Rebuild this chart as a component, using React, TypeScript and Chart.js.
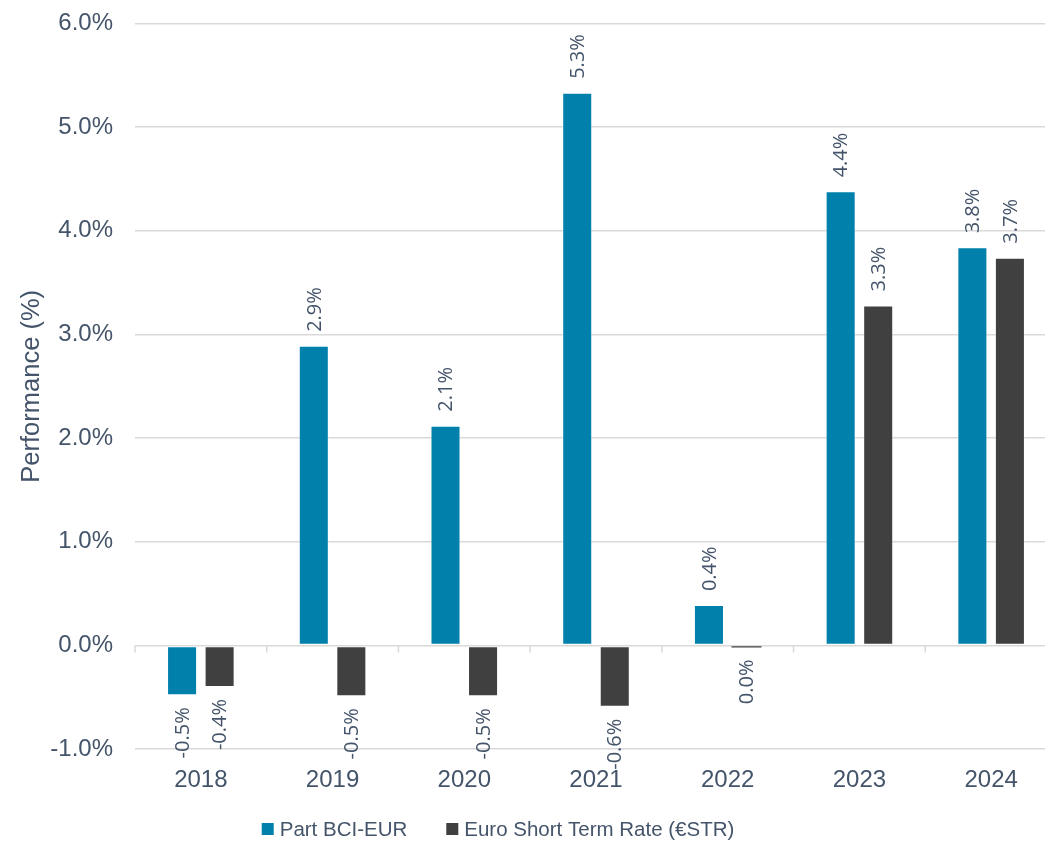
import React, { useEffect, useRef } from "react";
import { Chart, registerables } from "chart.js";

Chart.register(...registerables);

const categories = ["2018", "2019", "2020", "2021", "2022", "2023", "2024"];
const seriesBCI = [-0.48, 2.89, 2.12, 5.33, 0.39, 4.38, 3.84];
const seriesESTR = [-0.4, -0.49, -0.49, -0.59, -0.02, 3.28, 3.74];
const seriesNames = ["Part BCI-EUR", "Euro Short Term Rate (€STR)"];
const seriesColors = ["#0080AB", "#404040"];
const yTickMin = -1;
const yTickMax = 6;
const yTickStep = 1;

const TEXT = "#44546A";
const AXIS_FONT = "'Liberation Sans', Arial, sans-serif";
const LABEL_FONT = "'Open Sans', 'Liberation Sans', sans-serif";

const fmt = (v: number) => {
  const r = Math.round(v * 10) / 10;
  return (r === 0 ? 0 : r).toFixed(1) + "%";
};

const borderFor = (c: any) => {
  const v = c.raw;
  return typeof v === "number" && Math.abs(v) < 0.1 ? 0 : 1;
};

const dataLabelPlugin = {
  id: "dataLabels",
  afterDatasetsDraw(chart: any) {
    const ctx = chart.ctx;
    ctx.save();
    ctx.font = `20px ${LABEL_FONT}`;
    ctx.fillStyle = TEXT;
    ctx.textBaseline = "middle";
    chart.data.datasets.forEach((ds: any, di: number) => {
      const meta = chart.getDatasetMeta(di);
      meta.data.forEach((el: any, i: number) => {
        const v = ds.data[i];
        const txt = fmt(v);
        ctx.save();
        if (v >= 0) {
          ctx.translate(el.x, el.y - 14);
          ctx.rotate(-Math.PI / 2);
          ctx.textAlign = "left";
        } else {
          ctx.translate(el.x, el.y + 12);
          ctx.rotate(-Math.PI / 2);
          ctx.textAlign = "right";
        }
        ctx.fillText(txt, 0, 1);
        ctx.restore();
      });
    });
    ctx.restore();
  },
};

const zeroTicksPlugin = {
  id: "zeroTicks",
  beforeDatasetsDraw(chart: any) {
    const x = chart.scales.x;
    const y = chart.scales.y;
    const ctx = chart.ctx;
    const y0 = y.getPixelForValue(0);
    const n = categories.length;
    ctx.save();
    ctx.strokeStyle = "#D9D9D9";
    ctx.lineWidth = 1.5;
    for (let i = 0; i <= n; i++) {
      const px = x.left + (i * (x.right - x.left)) / n;
      ctx.beginPath();
      ctx.moveTo(px, y0);
      ctx.lineTo(px, y0 + 7);
      ctx.stroke();
    }
    ctx.restore();
  },
};

const legendPlugin = {
  id: "customLegend",
  afterDraw(chart: any) {
    const ctx = chart.ctx;
    ctx.save();
    ctx.font = `20.5px ${AXIS_FONT}`;
    ctx.textBaseline = "middle";
    const box = 12;
    const gapBoxText = 6;
    const gapItems = 39;
    const widths = seriesNames.map((s) => box + gapBoxText + ctx.measureText(s).width);
    const total = widths.reduce((a, b) => a + b, 0) + gapItems * (widths.length - 1);
    const cx = 498;
    const cy = 829;
    let x = cx - total / 2;
    seriesNames.forEach((s, i) => {
      ctx.fillStyle = seriesColors[i];
      ctx.fillRect(x, cy - box / 2, box, box);
      ctx.fillStyle = TEXT;
      ctx.textAlign = "left";
      ctx.fillText(s, x + box + gapBoxText, cy + 1);
      x += widths[i] + gapItems;
    });
    ctx.restore();
  },
};

export default function App() {
  const ref = useRef<HTMLCanvasElement | null>(null);
  useEffect(() => {
    if (!ref.current) return;
    const chart = new Chart(ref.current, {
      type: "bar",
      data: {
        labels: categories,
        datasets: [
          {
            label: seriesNames[0],
            data: seriesBCI,
            backgroundColor: seriesColors[0],
            borderColor: "rgba(255,255,255,0.45)",
            borderWidth: borderFor,
            borderSkipped: false,
            categoryPercentage: 0.57,
            barPercentage: 0.8,
          },
          {
            label: seriesNames[1],
            data: seriesESTR,
            backgroundColor: seriesColors[1],
            borderColor: "rgba(255,255,255,0.35)",
            borderWidth: borderFor,
            borderSkipped: false,
            categoryPercentage: 0.57,
            barPercentage: 0.8,
          },
        ],
      },
      options: {
        responsive: false,
        animation: false,
        layout: { padding: { left: 16.7, top: 23.4, right: 3, bottom: 29 } },
        plugins: {
          legend: { display: false },
          tooltip: { enabled: false },
        },
        scales: {
          x: {
            grid: { display: false, drawTicks: false },
            border: { display: false },
            ticks: {
              color: TEXT,
              font: { size: 24, family: AXIS_FONT },
              padding: 17,
            },
          },
          y: {
            min: yTickMin,
            max: yTickMax,
            afterFit: (scale: any) => {
              scale.paddingTop = 0;
            },
            grid: { color: "#D9D9D9", lineWidth: 1.5, drawTicks: false },
            border: { display: false },
            ticks: {
              stepSize: yTickStep,
              color: TEXT,
              font: { size: 24, family: AXIS_FONT },
              padding: 22,
              callback: (v: any) => Number(v).toFixed(1) + "%",
            },
            title: {
              display: true,
              text: "Performance (%)",
              color: TEXT,
              font: { size: 25.5, family: AXIS_FONT },
              padding: { top: 0, bottom: -19 },
            },
          },
        },
      },
      plugins: [zeroTicksPlugin, dataLabelPlugin, legendPlugin],
    } as any);
    return () => chart.destroy();
  }, []);
  return (
    <div
      style={{
        position: "absolute",
        left: 0,
        top: 0,
        width: 1045,
        height: 841,
        overflow: "hidden",
        background: "#fff",
      }}
    >
      <canvas ref={ref} width={1060} height={841} style={{ display: "block" }} />
    </div>
  );
}
